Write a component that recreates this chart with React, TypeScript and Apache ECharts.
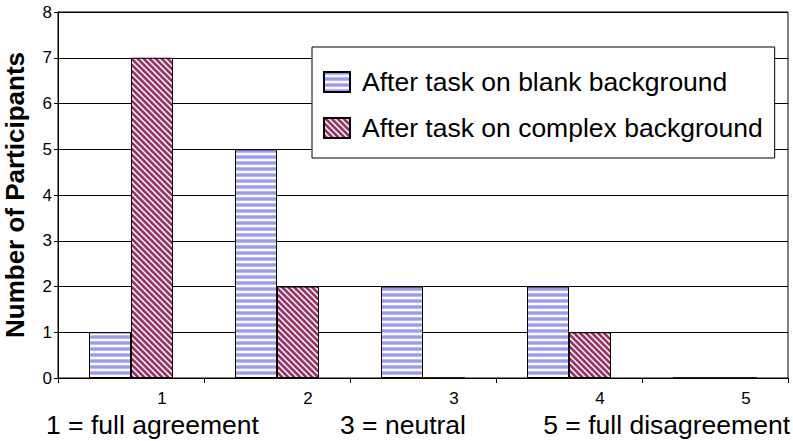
import React, { useEffect, useRef } from "react";
import * as echarts from "echarts";

const categories = ["1", "2", "3", "4", "5"];
const blankBackground = [1, 5, 2, 2, 0];
const complexBackground = [7, 2, 0, 1, 0];
const seriesNames = ["After task on blank background", "After task on complex background"];
const scaleNotes = ["1 = full agreement", "3 = neutral", "5 = full disagreement"];
const yTitle = "Number of Participants";

const FONT = "'Liberation Sans', Arial, Helvetica, sans-serif";

function makeBluePattern(): HTMLCanvasElement {
  const c = document.createElement("canvas");
  c.width = 6;
  c.height = 6;
  const ctx = c.getContext("2d")!;
  const rows = ["#9999ff", "#9999ff", "#b8b8ff", "#ffffff", "#ffffff", "#b8b8ff"];
  rows.forEach((col, y) => {
    ctx.fillStyle = col;
    ctx.fillRect(0, y, 6, 1);
  });
  return c;
}

function makeRedPattern(): HTMLCanvasElement {
  const c = document.createElement("canvas");
  c.width = 6;
  c.height = 6;
  const ctx = c.getContext("2d")!;
  for (let y = 0; y < 6; y++) {
    for (let x = 0; x < 6; x++) {
      const k = (((x - y) % 6) + 6) % 6;
      ctx.fillStyle = k < 3 ? "#993366" : k === 3 || k === 5 ? "#d9a6bf" : "#ffffff";
      ctx.fillRect(x, y, 1, 1);
    }
  }
  return c;
}

export default function App() {
  const ref = useRef<HTMLDivElement>(null);
  useEffect(() => {
    if (!ref.current) return;
    const chart = echarts.init(ref.current, null, { renderer: "svg" });
    const blue = makeBluePattern();
    const red = makeRedPattern();
    chart.setOption({
      animation: false,
      backgroundColor: "#ffffff",
      textStyle: { fontFamily: FONT, color: "#000" },
      grid: {
        left: 58,
        right: 5,
        top: 12,
        bottom: 63,
        containLabel: false,
        outerBoundsMode: "none",
        show: true,
        borderColor: "#000",
        borderWidth: 1,
        backgroundColor: "transparent",
      },
      legend: {
        orient: "vertical",
        left: 312,
        top: 47,
        backgroundColor: "#ffffff",
        borderColor: "#000",
        borderWidth: 1,
        borderRadius: 0,
        padding: [20, 12, 15, 11],
        itemWidth: 26,
        itemHeight: 20,
        itemGap: 16,
        icon: "rect",
        selectedMode: false,
        textStyle: {
          fontFamily: FONT,
          fontSize: 26.5,
          lineHeight: 30,
          color: "#000",
          padding: [0, 0, 0, 7],
        },
        data: seriesNames,
      },
      xAxis: {
        type: "category",
        data: categories,
        axisLine: { lineStyle: { color: "#000", width: 1 } },
        axisTick: { show: true, length: 5, lineStyle: { color: "#000" } },
        axisLabel: {
          fontFamily: FONT,
          fontSize: 17,
          color: "#000",
          margin: 12,
          padding: [0, 0, 0, 62],
        },
      },
      yAxis: {
        type: "value",
        min: 0,
        max: 8,
        interval: 1,
        name: yTitle,
        nameLocation: "middle",
        nameGap: 30,
        nameTextStyle: { fontFamily: FONT, fontSize: 26, fontWeight: "bold", color: "#000" },
        axisLine: { show: true, lineStyle: { color: "#000", width: 1 } },
        axisTick: { show: true, length: 4, lineStyle: { color: "#000" } },
        axisLabel: { fontFamily: FONT, fontSize: 17, color: "#000", margin: 6 },
        splitLine: { show: true, lineStyle: { color: "#000", width: 1 } },
      },
      series: [
        {
          name: seriesNames[0],
          type: "bar",
          data: blankBackground,
          barWidth: 42,
          barGap: "0%",
          itemStyle: {
            color: { image: blue, repeat: "repeat", imageWidth: 6, imageHeight: 6 },
            borderColor: "#000",
            borderWidth: 1,
          },
        },
        {
          name: seriesNames[1],
          type: "bar",
          data: complexBackground,
          barWidth: 42,
          barGap: "0%",
          itemStyle: {
            color: { image: red, repeat: "repeat", imageWidth: 6, imageHeight: 6 },
            borderColor: "#000",
            borderWidth: 1,
          },
        },
      ],
      graphic: [
        {
          type: "text",
          left: 46,
          top: 411,
          style: { text: scaleNotes[0], font: `26.5px ${FONT}`, fill: "#000" },
        },
        {
          type: "text",
          left: 340,
          top: 411,
          style: { text: scaleNotes[1], font: `26.5px ${FONT}`, fill: "#000" },
        },
        {
          type: "text",
          right: 3,
          top: 411,
          style: { text: scaleNotes[2], font: `26.5px ${FONT}`, fill: "#000" },
        },
      ],
    });
    return () => chart.dispose();
  }, []);
  return (
    <div
      ref={ref}
      style={{ position: "fixed", left: 0, top: 0, width: 793, height: 441 }}
    />
  );
}
